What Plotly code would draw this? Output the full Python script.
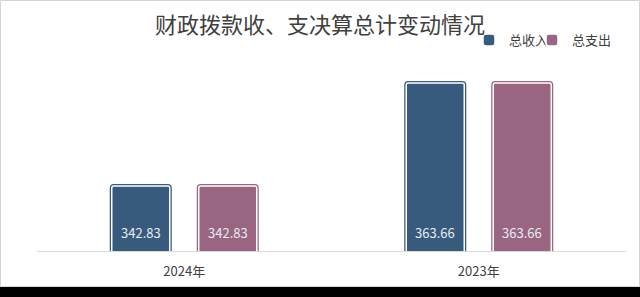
import plotly.graph_objects as go

categories = ["2024年", "2023年"]
series_names = ["总收入", "总支出"]
income = [342.83, 363.66]
expense = [342.83, 363.66]
colors = ["#385a7c", "#9a6581"]
title_text = "财政拨款收、支决算总计变动情况"

y_min, y_max = 329.7, 369.94
font_family = "Noto Sans CJK SC, Microsoft YaHei, sans-serif"

fig = go.Figure()
series = [income, expense]
bar_w = 0.197
offsets = [-0.2462, 0.0492]
legend_ids = ["legend", "legend2"]

# outer colored frame traces
for vals, col, off in zip(series, colors, offsets):
    fig.add_trace(go.Bar(
        x=categories, y=vals, width=bar_w, offset=off,
        marker=dict(color=col, line=dict(color=col, width=4)),
        showlegend=False, hoverinfo="skip",
    ))
# inner traces with white line
for name, vals, col, off, lg in zip(series_names, series, colors, offsets, legend_ids):
    fig.add_trace(go.Bar(
        x=categories, y=vals, width=bar_w, offset=off, name=name, legend=lg,
        marker=dict(color=col, line=dict(color="white", width=1.5)),
    ))

# value labels at bar bottoms
annotations = []
for vals, shift in zip(series, [-43.5, 43.5]):
    for cat, v in zip(categories, vals):
        annotations.append(dict(
            x=cat, y=y_min, xref="x", yref="y", text=f"{v:.2f}",
            showarrow=False, xshift=shift, yshift=18.5, yanchor="middle",
            font=dict(family=font_family, size=13, color="#e6edf5"),
        ))

legend_style = dict(orientation="h", xanchor="left", y=1.0603, yanchor="middle",
                    font=dict(family=font_family, size=13, color="#404040"),
                    itemwidth=30, bgcolor="rgba(0,0,0,0)")

fig.update_layout(
    width=640, height=297,
    margin=dict(l=37, r=14, t=52, b=46),
    paper_bgcolor="white", plot_bgcolor="white",
    barmode="overlay", barcornerradius=2,
    title=dict(text=title_text, x=0.5, xref="container", xanchor="center",
               y=1 - 25 / 297, yref="container", yanchor="middle",
               font=dict(family=font_family, size=22, color="#404040")),
    legend=dict(x=(469 - 37) / 589, **legend_style),
    legend2=dict(x=(532 - 37) / 589, **legend_style),
    font=dict(family=font_family),
    annotations=annotations,
    xaxis=dict(showgrid=False, showline=True, linecolor="#d9d9d9", linewidth=1,
               ticks="", tickfont=dict(family=font_family, size=13, color="#404040"),
               ticklabelstandoff=8, zeroline=False),
    yaxis=dict(range=[y_min, y_max], showgrid=False, showticklabels=False,
               showline=False, zeroline=False, ticks=""),
    shapes=[
        dict(type="rect", xref="paper", yref="paper", x0=-0.2, x1=1.2,
             y0=-0.3, y1=(251 - 287) / 199, fillcolor="black", line=dict(width=0),
             layer="above"),
        dict(type="rect", xref="paper", yref="paper",
             x0=(0.5 - 37) / 589, x1=(639.5 - 37) / 589,
             y0=(251 - 286.5) / 199, y1=(251 - 0.5) / 199,
             line=dict(color="#d4d4d4", width=1), fillcolor="rgba(0,0,0,0)", layer="above"),
    ],
)

fig.write_html("out.html")
